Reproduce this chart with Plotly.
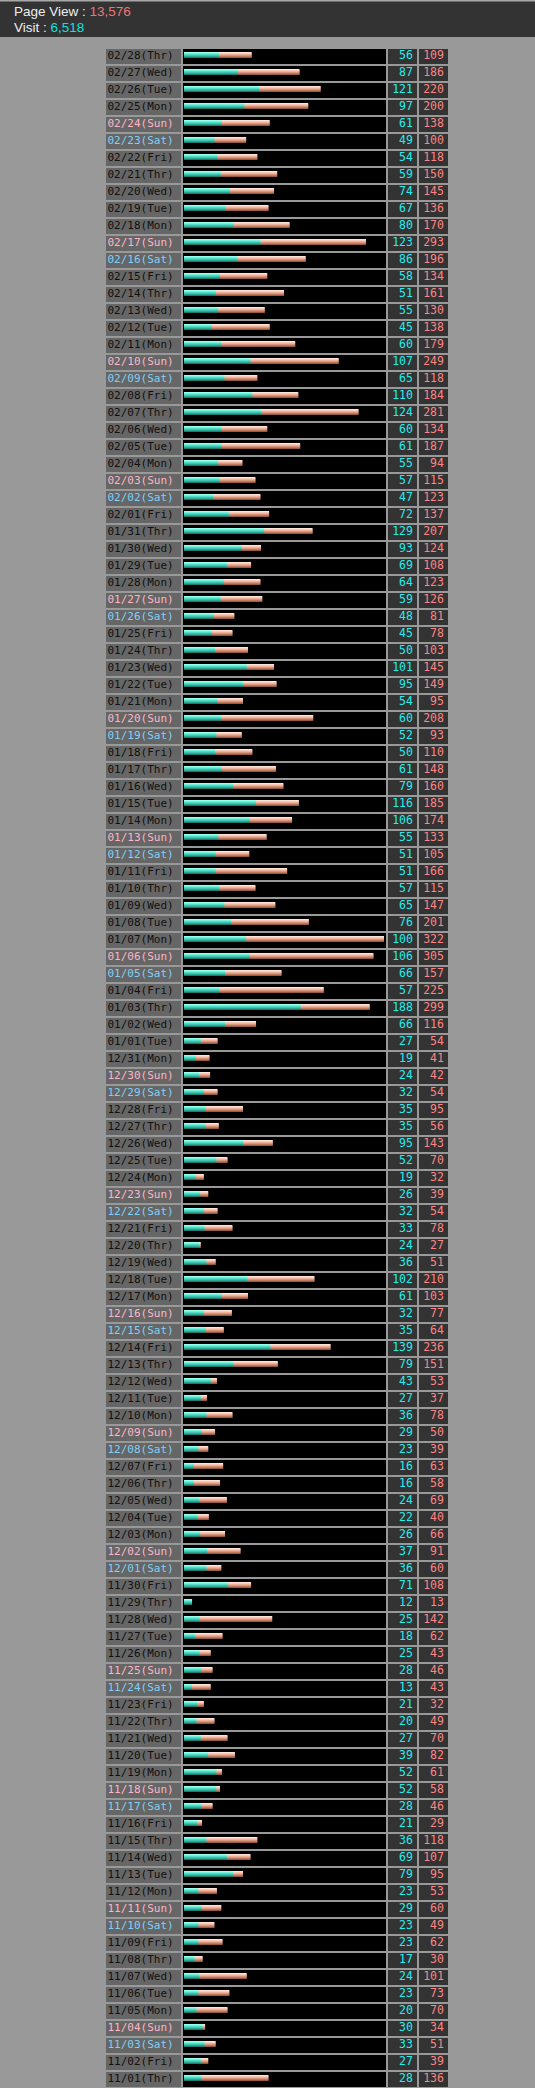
import pandas as pd
import plotly.graph_objects as go

# 日別アクセス (02/28 -> 11/01, 上から順)
visits = [
    56, 87, 121, 97, 61, 49, 54, 59, 74, 67, 80, 123, 86, 58, 51, 55, 45, 60, 107, 65,
    110, 124, 60, 61, 55, 57, 47, 72,
    129, 93, 69, 64, 59, 48, 45, 50, 101, 95, 54, 60, 52, 50, 61, 79, 116, 106, 55, 51,
    51, 57, 65, 76, 100, 106, 66, 57, 188, 66, 27,
    19, 24, 32, 35, 35, 95, 52, 19, 26, 32, 33, 24, 36, 102, 61, 32, 35, 139, 79, 43,
    27, 36, 29, 23, 16, 16, 24, 22, 26, 37, 36,
    71, 12, 25, 18, 25, 28, 13, 21, 20, 27, 39, 52, 52, 28, 21, 36, 69, 79, 23, 29,
    23, 23, 17, 24, 23, 20, 30, 33, 27, 28,
]
page_views = [
    109, 186, 220, 200, 138, 100, 118, 150, 145, 136, 170, 293, 196, 134, 161, 130, 138, 179, 249, 118,
    184, 281, 134, 187, 94, 115, 123, 137,
    207, 124, 108, 123, 126, 81, 78, 103, 145, 149, 95, 208, 93, 110, 148, 160, 185, 174, 133, 105,
    166, 115, 147, 201, 322, 305, 157, 225, 299, 116, 54,
    41, 42, 54, 95, 56, 143, 70, 32, 39, 54, 78, 27, 51, 210, 103, 77, 64, 236, 151, 53,
    37, 78, 50, 39, 63, 58, 69, 40, 66, 91, 60,
    108, 13, 142, 62, 43, 46, 43, 32, 49, 70, 82, 61, 58, 46, 29, 118, 107, 95, 53, 60,
    49, 62, 30, 101, 73, 70, 34, 51, 39, 136,
]

# 日付ラベル
dates = pd.date_range('2012-11-01', '2013-02-28', freq='D')[::-1]
day_names = ['Mon', 'Tue', 'Wed', 'Thr', 'Fri', 'Sat', 'Sun']
labels = [f"{d:%m/%d}({day_names[d.weekday()]})" for d in dates]

W, H = 535, 2088
ROW = 17.0  # 1行のピクセル高さ
n = len(labels)
cell_w = 15 / ROW
mono = 'DejaVu Sans Mono'

label_colors = []
for d in dates:
    if d.weekday() == 6:
        label_colors.append('#ffb4c4')
    elif d.weekday() == 5:
        label_colors.append('#80d0f4')
    else:
        label_colors.append('#111111')

# バー領域のスケール (322 -> 200px)
px_per_unit = 200 / max(page_views)
bar_x0 = 183
bar_x1 = 386
x_lo = -1.0 / px_per_unit
x_hi = x_lo + (bar_x1 - bar_x0) / px_per_unit

# グラデーション (上 -> 下)
visit_shades = ['#94ffea', '#72f2da', '#52dcc6', '#3ec4b0', '#2ea494', '#207c70']
pv_shades = ['#ffe2d6', '#f8ccb8', '#ecb29c', '#d8967c', '#be785a', '#9a5a40']


def dom(a, b):
    return [a / W, b / W]


fig = go.Figure()

# 日付セル
fig.add_trace(go.Bar(
    x=[1] * n, y=labels, orientation='h', width=cell_w,
    marker=dict(color='#666666', line_width=0), xaxis='x', hoverinfo='skip'
))
fig.add_trace(go.Scatter(
    x=[0.02] * n, y=labels, mode='text', text=labels, textposition='middle right',
    textfont=dict(family=mono, size=11, color=label_colors), xaxis='x', hoverinfo='skip'
))

# バーの黒背景
fig.add_trace(go.Bar(
    x=[x_hi - x_lo] * n, base=x_lo, y=labels, orientation='h', width=cell_w,
    marker=dict(color='#000000', line_width=0), xaxis='x2', hoverinfo='skip'
))

# PV → Visit の順に重ねる (1px ずつの帯でグラデーション)
for values, shades in [(page_views, pv_shades), (visits, visit_shades)]:
    for k, c in enumerate(shades):
        last = k == len(shades) - 1
        fig.add_trace(go.Bar(
            x=values, y=labels, orientation='h', base=0,
            width=(1.0 if last else 1.4) / ROW, offset=(-4.5 + k) / ROW,
            marker=dict(color=c, line_width=0), xaxis='x2', hoverinfo='skip'
        ))

# 数値セル
for axis, values, color in [('x3', visits, '#22eeee'), ('x4', page_views, '#ff8484')]:
    fig.add_trace(go.Bar(
        x=[1] * n, y=labels, orientation='h', width=cell_w,
        marker=dict(color='#333333', line_width=0), xaxis=axis, hoverinfo='skip'
    ))
    fig.add_trace(go.Scatter(
        x=[0.86] * n, y=labels, mode='text', text=[str(v) for v in values],
        textposition='middle left', textfont=dict(family=mono, size=11.5, color=color),
        xaxis=axis, hoverinfo='skip'
    ))

hidden = dict(visible=False, showgrid=False, zeroline=False, fixedrange=True)

fig.update_layout(
    width=W, height=H,
    margin=dict(l=0, r=0, t=0, b=0),
    paper_bgcolor='#999999', plot_bgcolor='rgba(0,0,0,0)',
    barmode='overlay', showlegend=False, hovermode=False,
    xaxis=dict(domain=dom(106, 181), range=[0, 1], anchor='y', **hidden),
    xaxis2=dict(domain=dom(bar_x0, bar_x1), range=[x_lo, x_hi], anchor='y', **hidden),
    xaxis3=dict(domain=dom(388, 417), range=[0, 1], anchor='y', **hidden),
    xaxis4=dict(domain=dom(419, 448), range=[0, 1], anchor='y', **hidden),
    yaxis=dict(domain=[0, 1 - 48 / H], type='category', categoryorder='array',
               categoryarray=labels, range=[n - 0.5, -0.5], **hidden),
    shapes=[
        dict(type='rect', xref='paper', yref='paper', x0=0, x1=1, y0=1 - 37 / H, y1=1,
             fillcolor='#333333', line_width=0, layer='below'),
        dict(type='rect', xref='paper', yref='paper', x0=0, x1=1, y0=1 - 1.5 / H, y1=1,
             fillcolor='#a8a8a8', line_width=0, layer='below'),
    ],
    annotations=[
        dict(xref='paper', yref='paper', x=12 / W, y=1 - 11.5 / H, xanchor='left', yanchor='middle',
             showarrow=False, font=dict(family='Liberation Sans', size=13.5, color='#eeeeee'),
             text=f"Page View : <span style='color:#f07474'>{sum(page_views):,}</span>"),
        dict(xref='paper', yref='paper', x=12 / W, y=1 - 27 / H, xanchor='left', yanchor='middle',
             showarrow=False, font=dict(family='Liberation Sans', size=13.5, color='#eeeeee'),
             text=f"Visit : <span style='color:#10e0e0'>{sum(visits):,}</span>"),
    ],
)

# ページ余白をなくす
fig.write_html(
    "out.html",
    config={'displayModeBar': False, 'staticPlot': True},
    post_script="document.body.style.margin='0';document.body.style.background='#999999';",
)
